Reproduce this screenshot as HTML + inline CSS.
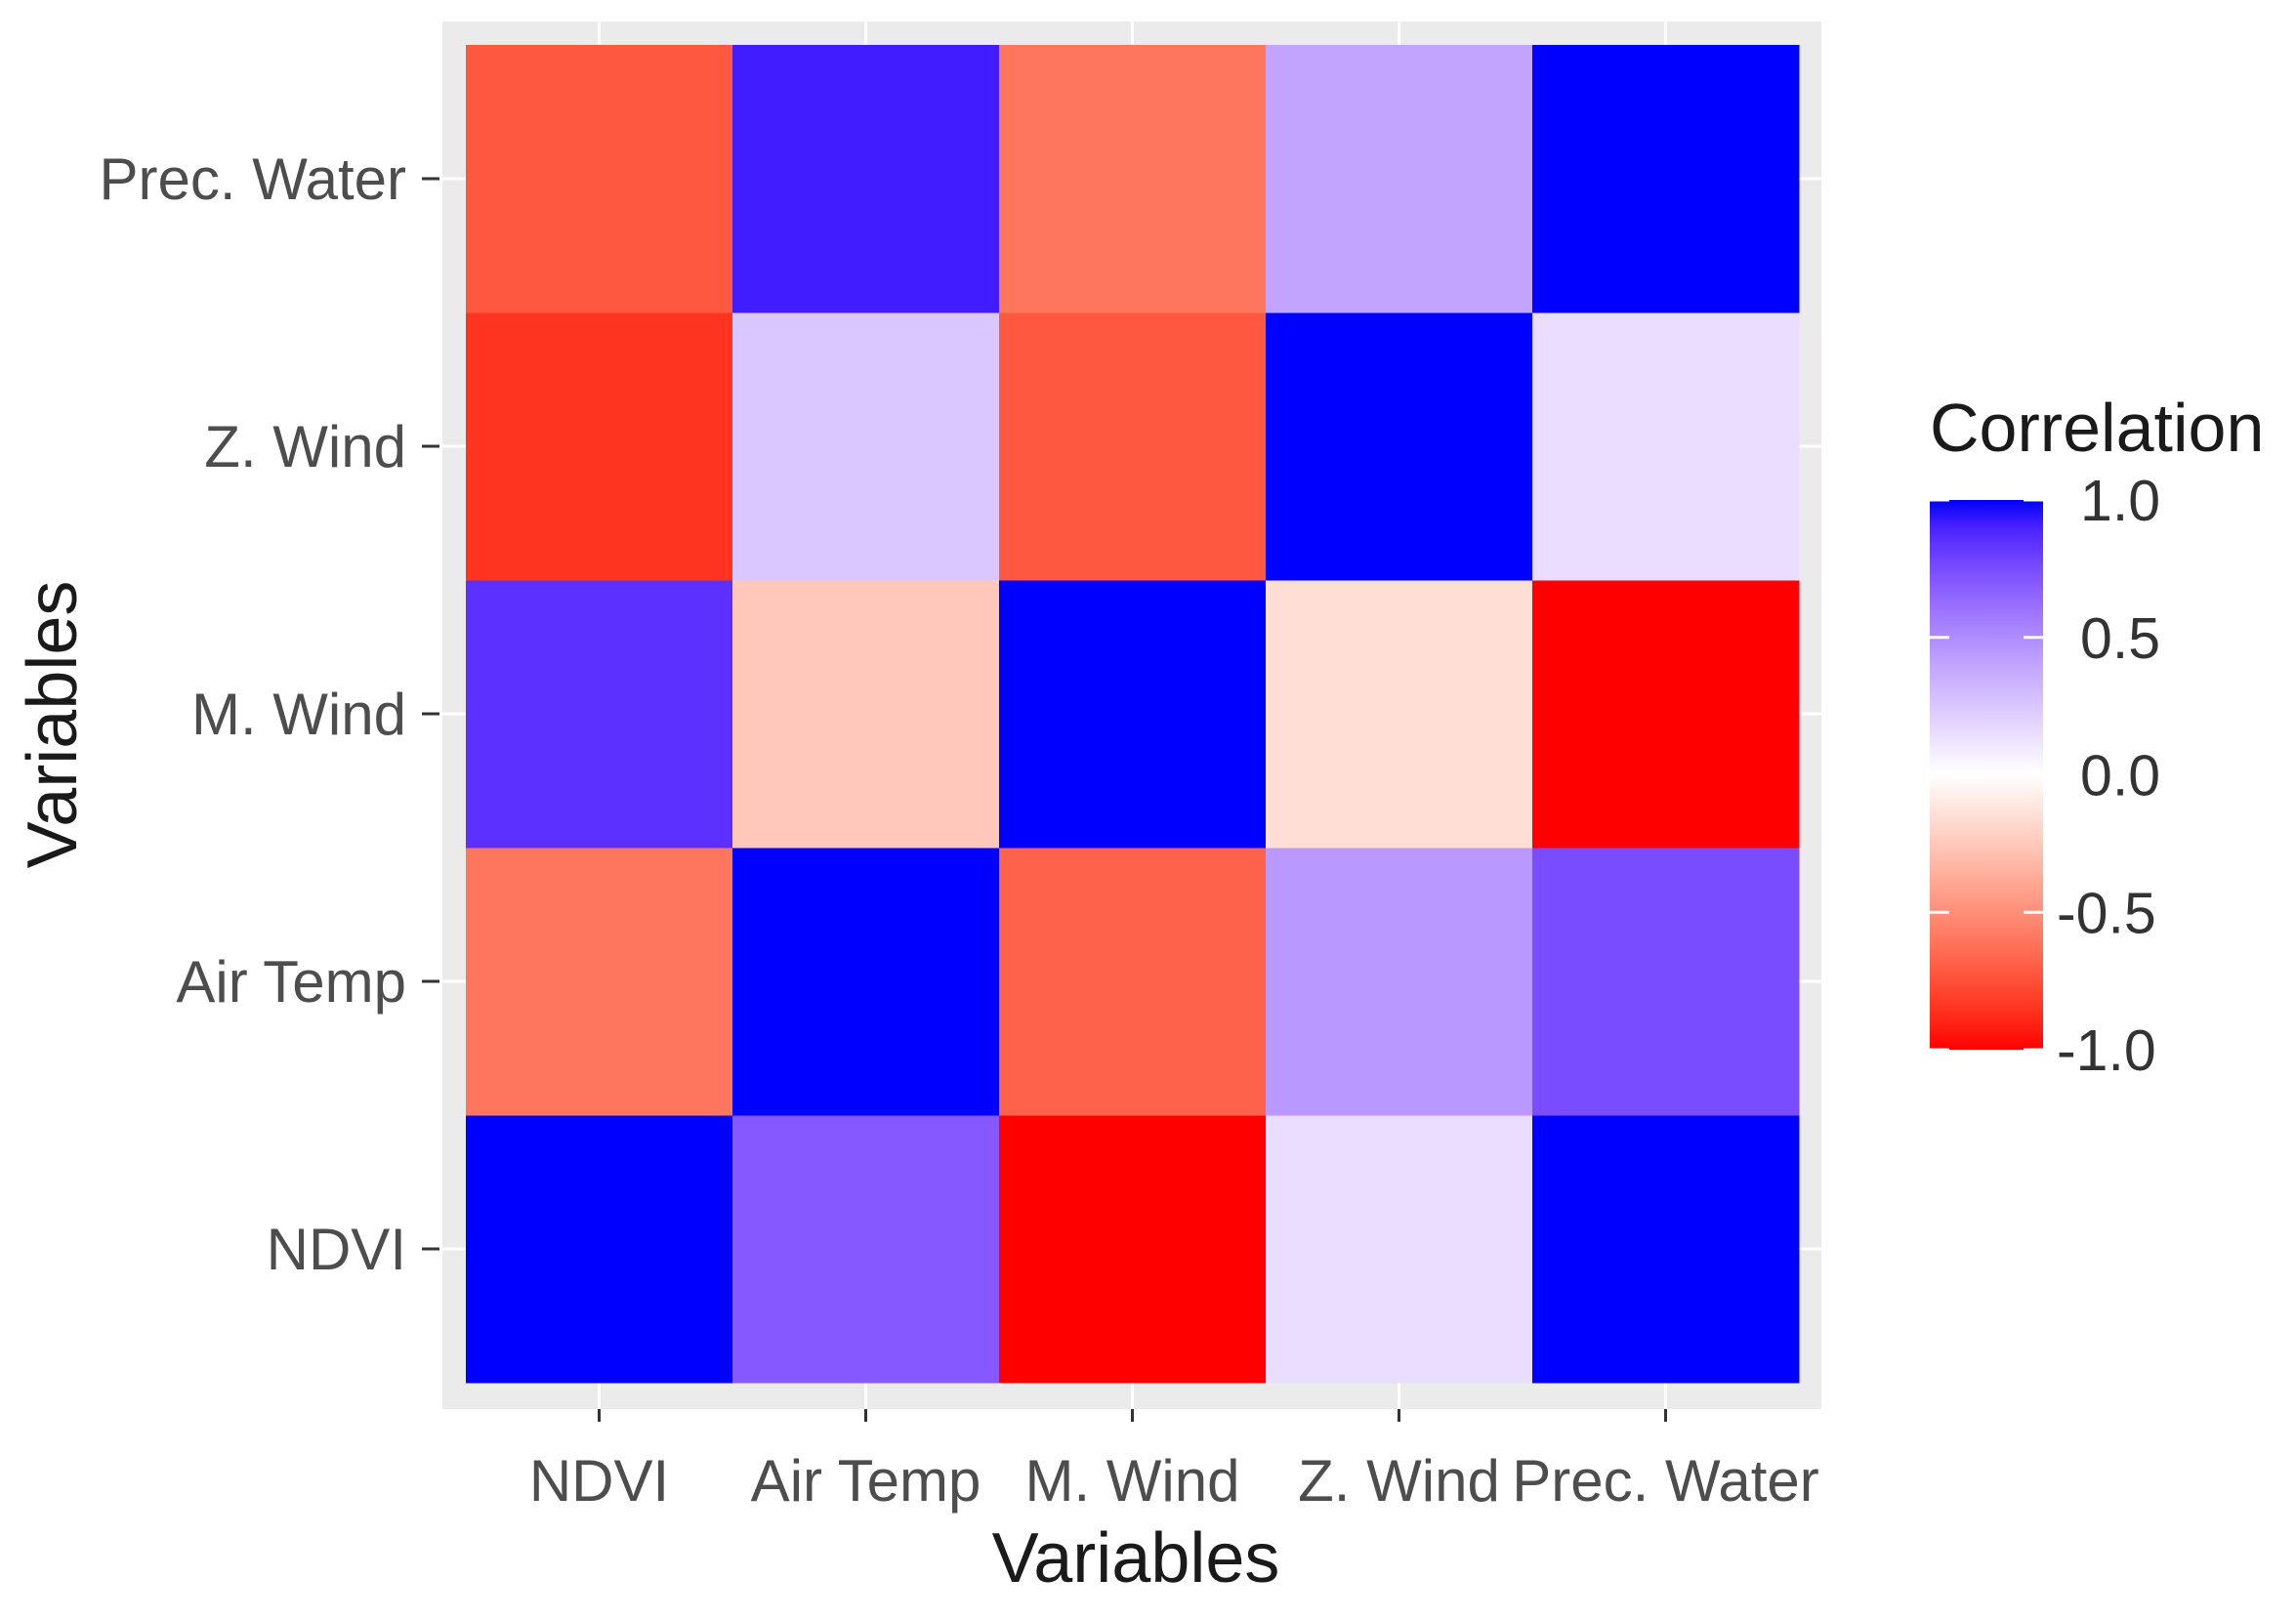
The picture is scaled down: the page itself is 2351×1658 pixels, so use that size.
<!DOCTYPE html>
<html><head><meta charset="utf-8"><style>
html,body{margin:0;padding:0;background:#fff}
svg{display:block}
text{font-family:"Liberation Sans",Arial,sans-serif}
</style></head><body>
<svg id="chart" width="2351" height="1658" viewBox="0 0 2351 1658">
<rect x="453" y="22" width="1412" height="1421" fill="#ebebeb"/>
<g id="grid"></g>
<g id="tiles"></g>
<g id="axes"></g>
<defs><linearGradient id="lg" x1="0" y1="1" x2="0" y2="0"></linearGradient></defs>
<g id="legend"></g>
<text x="1163" y="1620" font-size="72" fill="#1a1a1a" text-anchor="middle">Variables</text>
<text transform="translate(78,742) rotate(-90)" font-size="72" fill="#1a1a1a" text-anchor="middle">Variables</text>
</svg>
<script>
const xCats = ["NDVI","Air Temp","M. Wind","Z. Wind","Prec. Water"];
const yCats = ["NDVI","Air Temp","M. Wind","Z. Wind","Prec. Water"];
// rows correspond to yCats (bottom to top), columns to xCats
const rowNDVI = [1.0, 0.7, -1.0, 0.15, 1.0];
const rowAirTemp = [-0.6, 1.0, -0.68, 0.45, 0.75];
const rowMWind = [0.85, -0.25, 1.0, -0.15, -1.0];
const rowZWind = [-0.85, 0.25, -0.72, 1.0, 0.15];
const rowPrecWater = [-0.72, 0.92, -0.6, 0.4, 1.0];
const legendTicks = [1.0, 0.5, 0.0, -0.5, -1.0];
const legendTickLabels = ["1.0","0.5","0.0","-0.5","-1.0"];

const rows = [rowNDVI,rowAirTemp,rowMWind,rowZWind,rowPrecWater];
const NS="http://www.w3.org/2000/svg";
const X0=477,X1=1842,Y0=46,Y1=1416;
const cw=(X1-X0)/xCats.length, ch=(Y1-Y0)/yCats.length;
const xPos=i=>X0+i*cw, yPos=j=>Y1-(j+1)*ch;
function color(v){
  let r,g,b;
  if(v>=0){const u=1-v;r=255*Math.pow(u,0.54);g=255*Math.pow(u,0.87);b=255;}
  else{const u=1+v;r=255;g=255*Math.pow(u,0.84);b=255*Math.pow(u,1.09);}
  return `rgb(${Math.round(r)},${Math.round(g)},${Math.round(b)})`;
}
function mk(tag,attrs,parent,txt){const e=document.createElementNS(NS,tag);for(const k in attrs)e.setAttribute(k,attrs[k]);if(txt!==undefined)e.textContent=txt;parent.appendChild(e);return e;}
const grid=document.getElementById('grid'),tiles=document.getElementById('tiles'),axes=document.getElementById('axes'),legend=document.getElementById('legend');
xCats.forEach((c,i)=>{const l=mk('line',{x1:xPos(i)+cw/2,x2:xPos(i)+cw/2,y1:22,y2:1443,stroke:'#fff','stroke-width':3},grid);

});
yCats.forEach((c,j)=>{const l=mk('line',{x1:453,x2:1865,y1:yPos(j)+ch/2,y2:yPos(j)+ch/2,stroke:'#fff','stroke-width':3},grid);

});
rows.forEach((row,j)=>row.forEach((v,i)=>{
  const r=mk('rect',{x:xPos(i),y:yPos(j),width:cw+0.5,height:ch+0.5,fill:color(v)},tiles);
  
  
}));
xCats.forEach((c,i)=>{const cx=xPos(i)+cw/2;
  const t=mk('line',{x1:cx,x2:cx,y1:1443,y2:1456,stroke:'#333','stroke-width':3},axes);
  
  
  const l=mk('text',{x:cx,y:1537,'font-size':60,fill:'#4d4d4d','text-anchor':'middle'},axes,c);
  
  });
yCats.forEach((c,j)=>{const cy=yPos(j)+ch/2;
  const t=mk('line',{x1:432,x2:450,y1:cy,y2:cy,stroke:'#333','stroke-width':3},axes);
  
  
  const l=mk('text',{x:416,y:cy+21,'font-size':60,fill:'#4d4d4d','text-anchor':'end'},axes,c);
  
  });
// legend
const lg=document.getElementById('lg');
for(let k=0;k<=20;k++){const v=-1+k*0.1;mk('stop',{offset:(k/20),'stop-color':color(v)},lg);}
const LX=1976,LW=116,LT=512,LB=1075;
const ly=v=>LB-(v+1)/2*(LB-LT);
const bar=mk('rect',{x:LX,y:LT,width:LW,height:LB-LT,fill:'url(#lg)'},legend);


const title=mk('text',{x:1976,y:462,'font-size':70,fill:'#1a1a1a'},legend,'Correlation');


legendTicks.forEach((v,k)=>{const y=ly(v);
  const a=mk('line',{x1:LX,x2:LX+20,y1:y,y2:y,stroke:'#fff','stroke-width':3},legend);
  
  
  const b=mk('line',{x1:LX+LW-20,x2:LX+LW,y1:y,y2:y,stroke:'#fff','stroke-width':3},legend);
  
  
  const t=mk('text',{x:v<0?2106:2130,y:y+21,'font-size':59,fill:'#333','text-anchor':'start'},legend,legendTickLabels[k]);
  
  });
</script>
</body></html>
